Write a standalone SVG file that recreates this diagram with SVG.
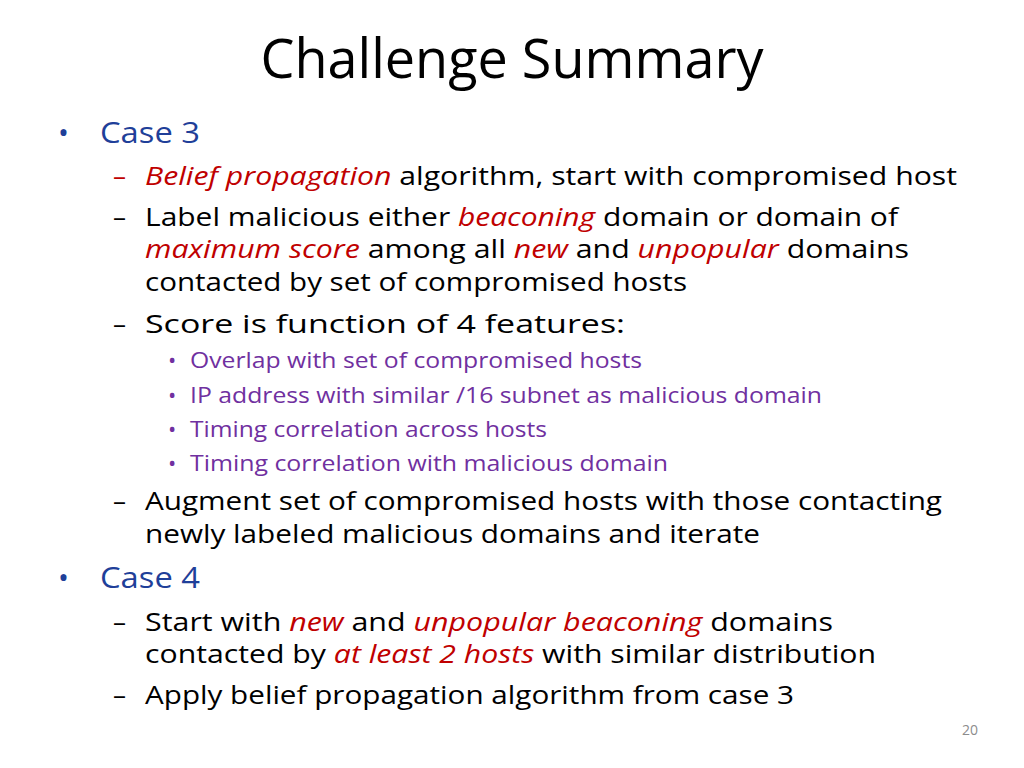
<svg xmlns="http://www.w3.org/2000/svg" width="1024" height="768" viewBox="0 0 1024 768">
<style>
text{font-family:"Open Sans","Liberation Sans",sans-serif;fill:#000}
.t{font-size:54px}
.l1{font-size:29px;fill:#1f3f99}
.l2{font-size:26px}
.l3{font-size:22px;fill:#7030a0}
.r{fill:#c00000;font-style:italic}
.pn{font-size:14px;fill:#8c8c8c}
</style>
<rect width="1024" height="768" fill="#fff"/>
<text class="t" x="512" y="78" text-anchor="middle" textLength="503" lengthAdjust="spacingAndGlyphs">Challenge Summary</text>
<g id="case3">
<text class="l1" x="58" y="143">•</text>
<text class="l1" x="100" y="143" textLength="100" lengthAdjust="spacingAndGlyphs">Case 3</text>
<text class="l2" x="113" y="185" fill="#c00000" style="fill:#c00000">–</text>
<text class="l2" x="145" y="185" textLength="812" lengthAdjust="spacingAndGlyphs"><tspan class="r">Belief propagation</tspan> algorithm, start with compromised host</text>
<text class="l2" x="113" y="226">–</text>
<text class="l2" x="145" y="226" textLength="753" lengthAdjust="spacingAndGlyphs">Label malicious either <tspan class="r">beaconing</tspan> domain or domain of</text>
<text class="l2" x="145" y="258" textLength="764" lengthAdjust="spacingAndGlyphs"><tspan class="r">maximum score</tspan> among all <tspan class="r">new</tspan> and <tspan class="r">unpopular</tspan> domains</text>
<text class="l2" x="145" y="291" textLength="542" lengthAdjust="spacingAndGlyphs">contacted by set of compromised hosts</text>
<text class="l2" x="113" y="333">–</text>
<text class="l2" x="145" y="333" textLength="480" lengthAdjust="spacingAndGlyphs">Score is function of 4 features:</text>
<text class="l3" x="168" y="368">•</text>
<text class="l3" x="190" y="368" textLength="452" lengthAdjust="spacingAndGlyphs">Overlap with set of compromised hosts</text>
<text class="l3" x="168" y="403">•</text>
<text class="l3" x="190" y="403" textLength="632" lengthAdjust="spacingAndGlyphs">IP address with similar /16 subnet as malicious domain</text>
<text class="l3" x="168" y="437">•</text>
<text class="l3" x="190" y="437" textLength="357" lengthAdjust="spacingAndGlyphs">Timing correlation across hosts</text>
<text class="l3" x="168" y="471">•</text>
<text class="l3" x="190" y="471" textLength="478" lengthAdjust="spacingAndGlyphs">Timing correlation with malicious domain</text>
<text class="l2" x="113" y="510">–</text>
<text class="l2" x="145" y="510" textLength="797" lengthAdjust="spacingAndGlyphs">Augment set of compromised hosts with those contacting</text>
<text class="l2" x="145" y="543" textLength="615" lengthAdjust="spacingAndGlyphs">newly labeled malicious domains and iterate</text>
</g>
<g id="case4">
<text class="l1" x="58" y="588">•</text>
<text class="l1" x="100" y="588" textLength="100" lengthAdjust="spacingAndGlyphs">Case 4</text>
<text class="l2" x="113" y="631">–</text>
<text class="l2" x="145" y="631" textLength="688" lengthAdjust="spacingAndGlyphs">Start with <tspan class="r">new</tspan> and <tspan class="r">unpopular beaconing</tspan> domains</text>
<text class="l2" x="145" y="663" textLength="731" lengthAdjust="spacingAndGlyphs">contacted by <tspan class="r">at least 2 hosts</tspan> with similar distribution</text>
<text class="l2" x="113" y="704">–</text>
<text class="l2" x="145" y="704" textLength="649" lengthAdjust="spacingAndGlyphs">Apply belief propagation algorithm from case 3</text>
</g>
<text class="pn" x="970" y="735" text-anchor="middle">20</text>
</svg>
